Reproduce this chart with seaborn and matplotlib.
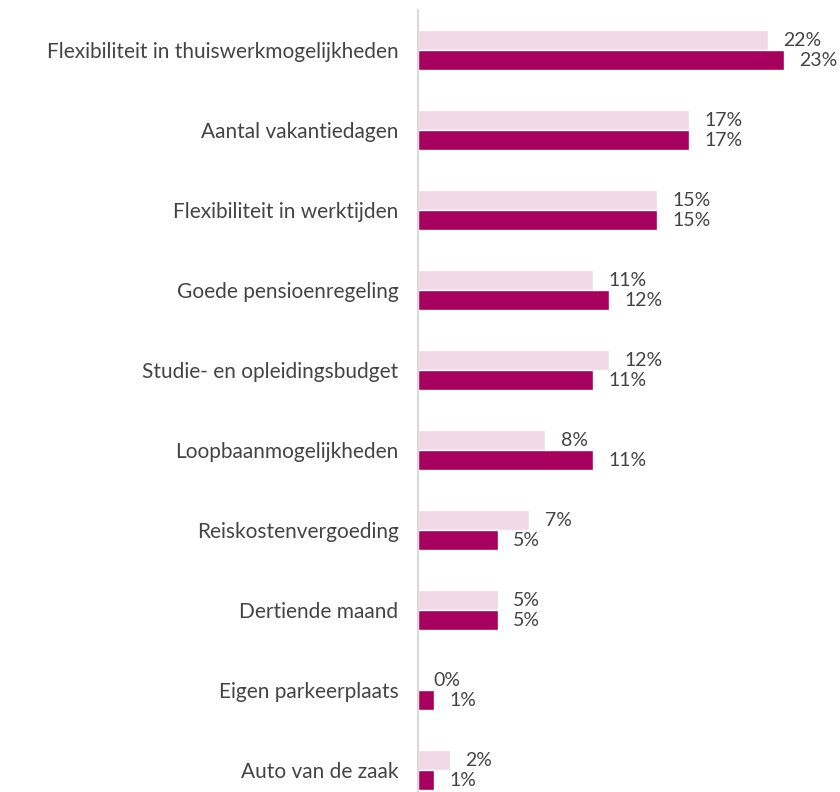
import matplotlib
matplotlib.use("Agg")
import matplotlib.pyplot as plt
import seaborn as sns
import pandas as pd

categories = [
    "Flexibiliteit in thuiswerkmogelijkheden",
    "Aantal vakantiedagen",
    "Flexibiliteit in werktijden",
    "Goede pensioenregeling",
    "Studie- en opleidingsbudget",
    "Loopbaanmogelijkheden",
    "Reiskostenvergoeding",
    "Dertiende maand",
    "Eigen parkeerplaats",
    "Auto van de zaak",
]
series_names = ["Meting 1", "Meting 2"]
values_light = [22, 17, 15, 11, 12, 8, 7, 5, 0, 2]
values_dark = [23, 17, 15, 12, 11, 11, 5, 5, 1, 1]
colors = ["#F2D7E6", "#A8005E"]
text_color = "#444444"

df = pd.DataFrame({
    "categorie": categories * 2,
    "reeks": [series_names[0]] * len(categories) + [series_names[1]] * len(categories),
    "waarde": values_light + values_dark,
})

sns.set_theme(style="white")
plt.rcParams["font.family"] = ["Lato", "DejaVu Sans"]

fig = plt.figure(figsize=(8.4, 7.92), dpi=100)
ax = fig.add_axes([418 / 840, 0, 1 - 418 / 840, 1 - 10 / 792])

sns.barplot(
    data=df, y="categorie", x="waarde", hue="reeks",
    order=categories, hue_order=series_names,
    palette=colors, width=0.5, orient="h", legend=False, ax=ax,
    saturation=1,
)

for container in ax.containers:
    ax.bar_label(container, labels=[f"{v:.0f}%" for v in container.datavalues],
                 padding=11, fontsize=14, color=text_color)

ax.set_xlim(0, 26.5)
ax.set_ylim(9.275, -0.5)
ax.set_xlabel("")
ax.set_ylabel("")
ax.set_xticks([])
ax.tick_params(axis="y", length=0, pad=14, labelsize=15, labelcolor=text_color)
for side in ["top", "right", "bottom"]:
    ax.spines[side].set_visible(False)
ax.spines["left"].set_color("#D9D9D9")
ax.spines["left"].set_linewidth(1.5)

fig.savefig("out.png", dpi=100)
